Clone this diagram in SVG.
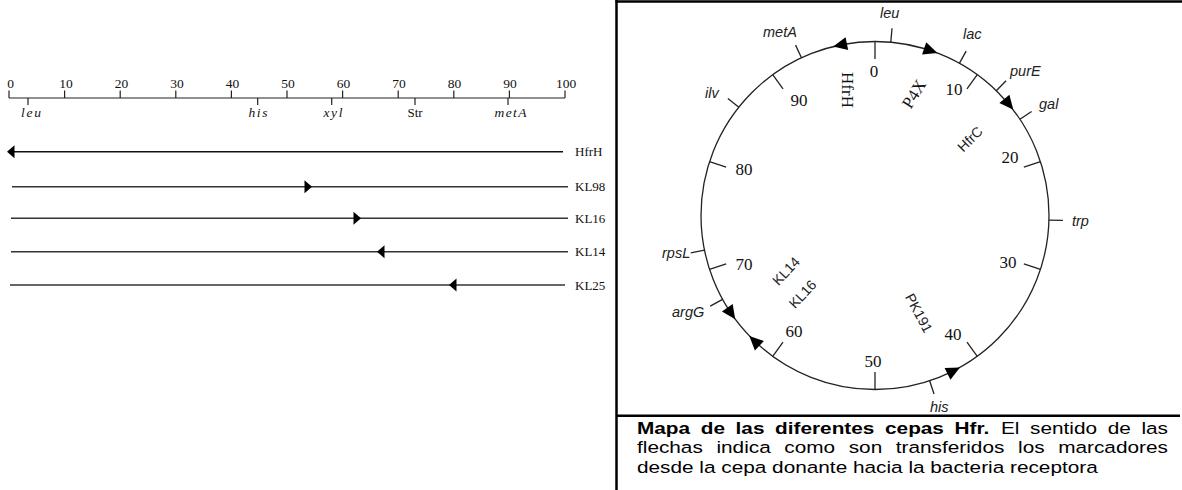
<svg xmlns="http://www.w3.org/2000/svg" width="1182" height="490" viewBox="0 0 1182 490">
  <style>
    .ax{stroke:#222;stroke-width:1.2;fill:none}
    .num{font-family:"Liberation Serif","Times New Roman",serif;font-size:13.5px;fill:#111;text-anchor:middle}
    .gl{font-family:"Liberation Serif","Times New Roman",serif;font-style:italic;font-size:13.5px;fill:#111;text-anchor:middle}
    .glr{font-family:"Liberation Serif","Times New Roman",serif;font-size:13px;fill:#111;text-anchor:middle}
    .strain{stroke:#333;stroke-width:1.4}
    .slabel{font-family:"Liberation Serif","Times New Roman",serif;font-size:13px;fill:#111}
    .ring{fill:none;stroke:#222;stroke-width:1.3}
    .tick{stroke:#222;stroke-width:1.3}
    .cnum{font-family:"Liberation Serif","Times New Roman",serif;font-size:17px;fill:#111;text-anchor:middle}
    .gene{font-family:"Liberation Sans",Arial,sans-serif;font-style:italic;font-size:14.5px;fill:#222}
    .sname{font-family:"Liberation Sans",Arial,sans-serif;font-size:14px;fill:#222;text-anchor:middle}
    .snameS{font-family:"Liberation Serif","Times New Roman",serif;font-size:17px;fill:#111;text-anchor:middle}
    .frame{stroke:#000;stroke-width:2.5;fill:none}
    .cap{font-family:"Liberation Sans",Arial,sans-serif;font-size:16.5px;fill:#000}
    .b{font-weight:bold}
  </style>
  <defs>
    <path id="ah" d="M7,0 L-7,-6.5 L-7,6.5 Z" fill="#000"/>
    <path id="lr" d="M0,0 L-7.5,-6.5 L-7.5,6.5 Z" fill="#000"/>
    <path id="ll" d="M0,0 L7.5,-6.5 L7.5,6.5 Z" fill="#000"/>
  </defs>

  <!-- linear map: scale 0..100 -->
  <g id="scale">
    <line class="ax" x1="9" y1="98" x2="565" y2="98"/>
    <g class="ax">
      <line x1="9" y1="98" x2="9" y2="90.5"/>
      <line x1="64.6" y1="98" x2="64.6" y2="90.5"/>
      <line x1="120.2" y1="98" x2="120.2" y2="90.5"/>
      <line x1="175.8" y1="98" x2="175.8" y2="90.5"/>
      <line x1="231.4" y1="98" x2="231.4" y2="90.5"/>
      <line x1="287" y1="98" x2="287" y2="90.5"/>
      <line x1="342.6" y1="98" x2="342.6" y2="90.5"/>
      <line x1="398.2" y1="98" x2="398.2" y2="90.5"/>
      <line x1="453.8" y1="98" x2="453.8" y2="90.5"/>
      <line x1="509.4" y1="98" x2="509.4" y2="90.5"/>
      <line x1="565" y1="98" x2="565" y2="90.5"/>
      <line x1="28" y1="98" x2="28" y2="105"/>
      <line x1="257.7" y1="98" x2="257.7" y2="105"/>
      <line x1="331.7" y1="98" x2="331.7" y2="105"/>
      <line x1="415" y1="98" x2="415" y2="105"/>
      <line x1="508" y1="98" x2="508" y2="105"/>
    </g>
    <text class="num" x="10.5" y="88">0</text>
    <text class="num" x="66" y="88">10</text>
    <text class="num" x="121.5" y="88">20</text>
    <text class="num" x="177" y="88">30</text>
    <text class="num" x="232.5" y="88">40</text>
    <text class="num" x="288" y="88">50</text>
    <text class="num" x="343.5" y="88">60</text>
    <text class="num" x="399" y="88">70</text>
    <text class="num" x="454.5" y="88">80</text>
    <text class="num" x="510" y="88">90</text>
    <text class="num" x="566" y="88">100</text>
    <text class="gl" x="31" y="117" textLength="20" lengthAdjust="spacing">leu</text>
    <text class="gl" x="258" y="117" textLength="19" lengthAdjust="spacing">his</text>
    <text class="gl" x="333" y="117" textLength="19" lengthAdjust="spacing">xyl</text>
    <text class="glr" x="415" y="117">Str</text>
    <text class="gl" x="510.5" y="117" textLength="32" lengthAdjust="spacing">metA</text>
  </g>

  <!-- transfer lines of each strain -->
  <g id="strain-lines">
    <g id="lin-HfrH">
      <line class="strain" x1="13" y1="151.7" x2="563" y2="151.7" style="stroke:#111;stroke-width:1.6"/>
      <use href="#ll" x="7" y="151.7"/>
      <text class="slabel" x="575" y="156.2">HfrH</text>
    </g>
    <g id="lin-KL98">
      <line class="strain" x1="12" y1="186.7" x2="568" y2="186.7"/>
      <use href="#lr" x="312" y="186.7"/>
      <text class="slabel" x="575" y="191.2">KL98</text>
    </g>
    <g id="lin-KL16">
      <line class="strain" x1="11" y1="218.3" x2="568" y2="218.3"/>
      <use href="#lr" x="361" y="218.3"/>
      <text class="slabel" x="575" y="222.8">KL16</text>
    </g>
    <g id="lin-KL14">
      <line class="strain" x1="11" y1="251.7" x2="568" y2="251.7"/>
      <use href="#ll" x="377" y="251.7"/>
      <text class="slabel" x="575" y="256.2">KL14</text>
    </g>
    <g id="lin-KL25">
      <line class="strain" x1="10" y1="285" x2="565" y2="285"/>
      <use href="#ll" x="449" y="285"/>
      <text class="slabel" x="575" y="289.5">KL25</text>
    </g>
  </g>

  <!-- frame around the circular map and caption -->
  <g id="frame">
    <line class="frame" x1="616.5" y1="0" x2="616.5" y2="490"/>
    <line class="frame" x1="615.5" y1="1.5" x2="1182" y2="1.5"/>
    <line class="frame" x1="616.5" y1="415.7" x2="1180" y2="415.7"/>
  </g>

  <!-- circular chromosome map, centre 875,215.5, r 174 -->
  <g id="chromosome">
    <circle class="ring" cx="875" cy="215.5" r="174"/>
    <g class="tick">
      <line x1="875" y1="41.5" x2="875" y2="59"/>
      <line x1="875" y1="41.5" x2="875" y2="59" transform="rotate(36 875 215.5)"/>
      <line x1="875" y1="41.5" x2="875" y2="59" transform="rotate(72 875 215.5)"/>
      <line x1="875" y1="41.5" x2="875" y2="59" transform="rotate(108 875 215.5)"/>
      <line x1="875" y1="41.5" x2="875" y2="59" transform="rotate(144 875 215.5)"/>
      <line x1="875" y1="41.5" x2="875" y2="59" transform="rotate(180 875 215.5)"/>
      <line x1="875" y1="41.5" x2="875" y2="59" transform="rotate(216 875 215.5)"/>
      <line x1="875" y1="41.5" x2="875" y2="59" transform="rotate(252 875 215.5)"/>
      <line x1="875" y1="41.5" x2="875" y2="59" transform="rotate(288 875 215.5)"/>
      <line x1="875" y1="41.5" x2="875" y2="59" transform="rotate(324 875 215.5)"/>
    </g>
    <text class="cnum" x="874" y="77">0</text>
    <text class="cnum" x="954" y="95">10</text>
    <text class="cnum" x="1010" y="163">20</text>
    <text class="cnum" x="1008" y="268">30</text>
    <text class="cnum" x="953" y="340">40</text>
    <text class="cnum" x="873" y="367">50</text>
    <text class="cnum" x="794" y="337">60</text>
    <text class="cnum" x="744" y="270">70</text>
    <text class="cnum" x="744" y="175">80</text>
    <text class="cnum" x="799" y="106">90</text>
  </g>

  <!-- gene markers on the chromosome -->
  <g id="markers">
    <g class="tick">
      <line x1="875" y1="41.5" x2="875" y2="27.5" transform="rotate(5.2 875 215.5)"/>
      <line x1="875" y1="41.5" x2="875" y2="27.5" transform="rotate(29 875 215.5)"/>
      <line x1="875" y1="41.5" x2="875" y2="27.5" transform="rotate(44.2 875 215.5)"/>
      <line x1="875" y1="41.5" x2="875" y2="27.5" transform="rotate(56.4 875 215.5)"/>
      <line x1="875" y1="41.5" x2="875" y2="27.5" transform="rotate(91.5 875 215.5)"/>
      <line x1="875" y1="41.5" x2="875" y2="27.5" transform="rotate(161.7 875 215.5)"/>
      <line x1="875" y1="41.5" x2="875" y2="27.5" transform="rotate(241.2 875 215.5)"/>
      <line x1="875" y1="41.5" x2="875" y2="27.5" transform="rotate(258.5 875 215.5)"/>
      <line x1="875" y1="41.5" x2="875" y2="27.5" transform="rotate(308.5 875 215.5)"/>
      <line x1="875" y1="41.5" x2="875" y2="27.5" transform="rotate(335 875 215.5)"/>
    </g>
    <text class="gene" x="880" y="18">leu</text>
    <text class="gene" x="963" y="39">lac</text>
    <text class="gene" x="1010" y="76">purE</text>
    <text class="gene" x="1039" y="109">gal</text>
    <text class="gene" x="1072" y="226">trp</text>
    <text class="gene" x="930" y="412">his</text>
    <text class="gene" x="672" y="317">argG</text>
    <text class="gene" x="662" y="258">rpsL</text>
    <text class="gene" x="705" y="98">ilv</text>
    <text class="gene" x="763" y="37">metA</text>
  </g>

  <!-- origins of the Hfr strains and direction of transfer -->
  <g id="hfr-HfrH">
    <use href="#ah" transform="rotate(348.4 875 215.5) translate(875 41.5) scale(-1 1)"/>
    <text class="snameS" transform="translate(847 90) rotate(90)" y="5.5">HfrH</text>
  </g>
  <g id="hfr-P4X">
    <use href="#ah" transform="rotate(18.7 875 215.5) translate(875 41.5)"/>
    <text class="snameS" transform="translate(914 94) rotate(-58)" y="5.5">P4X</text>
  </g>
  <g id="hfr-HfrC">
    <use href="#ah" transform="rotate(50.3 875 215.5) translate(875 41.5)"/>
    <text class="sname" transform="translate(970 139) rotate(-45)" y="5">HfrC</text>
  </g>
  <g id="hfr-KL16">
    <use href="#ah" transform="rotate(235.7 875 215.5) translate(875 41.5) scale(-1 1)"/>
    <text class="sname" transform="translate(802.5 294) rotate(-47)" y="5">KL16</text>
  </g>
  <g id="hfr-KL14">
    <use href="#ah" transform="rotate(223.9 875 215.5) translate(875 41.5)"/>
    <text class="sname" transform="translate(786 271) rotate(-47)" y="5">KL14</text>
  </g>
  <g id="hfr-PK191">
    <use href="#ah" transform="rotate(153.1 875 215.5) translate(875 41.5) scale(-1 1)"/>
    <text class="sname" transform="translate(919 313) rotate(62)" y="5">PK191</text>
  </g>

  <!-- caption, justified -->
  <g id="caption" transform="translate(637 0) scale(1.26 1)">
    <text class="cap" y="434"><tspan class="b" x="0">Mapa</tspan><tspan class="b" x="50.58">de</tspan><tspan class="b" x="78.25">las</tspan><tspan class="b" x="109.6">diferentes</tspan><tspan class="b" x="196.86">cepas</tspan><tspan class="b" x="252.05">Hfr.</tspan><tspan x="288.87">El</tspan><tspan x="311.95">sentido</tspan><tspan x="373.56">de</tspan><tspan x="400.32">las</tspan></text>
    <text class="cap" y="453.5"><tspan x="0">flechas</tspan><tspan x="63.05">indica</tspan><tspan x="116.93">como</tspan><tspan x="168.05">son</tspan><tspan x="205.43">transferidos</tspan><tspan x="302.41">los</tspan><tspan x="334.28">marcadores</tspan></text>
    <text class="cap" x="0" y="473">desde la cepa donante hacia la bacteria receptora</text>
  </g>
</svg>
